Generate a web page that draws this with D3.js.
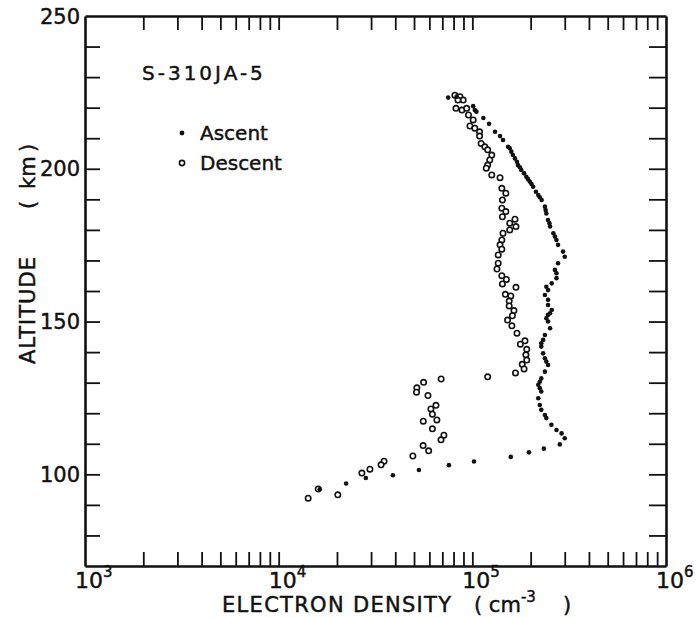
<!DOCTYPE html>
<html>
<head>
<meta charset="utf-8">
<script src="https://cdn.jsdelivr.net/npm/d3@7/dist/d3.min.js"></script>
<style>
  html, body { margin: 0; padding: 0; background: #fff; }
  svg { display: block; }
  text { font-family: "DejaVu Sans", sans-serif; fill: #111; stroke: #111; stroke-width: 0.45px; }
</style>
</head>
<body>
<svg id="chart" width="697" height="618"></svg>
<script>
// Rocket S-310JA-5 electron density profiles: [density (cm^-3), altitude (km)]
const ascent = [
  [7.5e4, 223.3], [8.3e4, 223.6], [1.01e5, 220.5], [1.03e5, 219.2], [1.05e5, 218.7],
  [1.14e5, 216.6], [1.22e5, 214.7], [1.31e5, 212.1], [1.39e5, 210.7], [1.44e5, 209.4],
  [1.53e5, 207.2], [1.56e5, 206.7], [1.59e5, 205.6], [1.62e5, 204.5], [1.66e5, 203.4],
  [1.70e5, 202.3], [1.72e5, 201.2], [1.76e5, 200.5], [1.79e5, 199.6], [1.85e5, 198.5],
  [1.90e5, 197.4], [1.94e5, 196.6], [1.98e5, 195.8], [2.02e5, 195.0], [2.06e5, 194.1],
  [2.13e5, 192.5], [2.19e5, 191.4], [2.23e5, 190.7], [2.28e5, 189.8], [2.37e5, 187.6],
  [2.39e5, 186.5], [2.41e5, 185.4], [2.46e5, 183.2], [2.50e5, 182.2], [2.52e5, 181.1],
  [2.62e5, 178.9], [2.67e5, 177.8], [2.72e5, 176.7], [2.77e5, 175.1], [2.94e5, 172.9],
  [3.0e5, 171.2], [2.77e5, 169.1], [2.67e5, 166.9], [2.72e5, 165.8], [2.72e5, 164.2],
  [2.57e5, 162.5], [2.41e5, 161.4], [2.46e5, 160.3], [2.37e5, 158.7], [2.46e5, 157.1],
  [2.46e5, 155.4], [2.57e5, 153.8], [2.52e5, 152.7], [2.46e5, 152.2], [2.41e5, 151.1],
  [2.46e5, 150.0], [2.52e5, 147.8], [2.37e5, 145.6], [2.32e5, 144.0], [2.27e5, 142.9],
  [2.27e5, 141.8], [2.32e5, 139.6], [2.37e5, 138.0], [2.41e5, 136.9], [2.46e5, 135.8],
  [2.37e5, 133.6], [2.27e5, 131.4], [2.23e5, 130.3], [2.19e5, 129.3], [2.23e5, 128.2],
  [2.27e5, 127.1], [2.19e5, 124.9], [2.23e5, 122.7], [2.27e5, 121.1], [2.37e5, 119.4],
  [2.41e5, 118.4], [2.56e5, 116.2], [2.72e5, 114.5], [2.89e5, 113.4], [3.0e5, 111.8],
  [2.83e5, 109.8], [2.34e5, 108.4], [1.96e5, 107.2], [1.58e5, 105.7], [1.02e5, 104.2],
  [7.57e4, 103.0], [5.3e4, 101.4], [3.89e4, 99.7], [2.82e4, 98.8], [2.23e4, 97.0],
  [1.63e4, 95.1]
];

const descent = [
  [8.13e4, 224.1], [8.63e4, 223.6], [8.97e4, 222.5], [8.43e4, 222.5], [8.23e4, 219.8],
  [8.84e4, 219.2], [9.35e4, 219.8], [9.55e4, 217.6], [1.01e5, 216.0], [9.72e4, 214.0],
  [1.03e5, 213.3], [1.09e5, 212.1], [1.09e5, 210.7], [1.11e5, 208.3], [1.16e5, 207.2],
  [1.20e5, 206.2], [1.26e5, 204.5], [1.23e5, 202.9], [1.20e5, 201.2], [1.18e5, 200.2],
  [1.26e5, 198.0], [1.39e5, 197.1], [1.42e5, 193.6], [1.49e5, 192.0], [1.43e5, 189.8],
  [1.42e5, 187.1], [1.49e5, 186.0], [1.43e5, 184.3], [1.66e5, 183.5], [1.56e5, 182.2],
  [1.68e5, 181.1], [1.56e5, 180.0], [1.44e5, 178.9], [1.42e5, 176.7], [1.39e5, 175.1],
  [1.42e5, 173.7], [1.36e5, 171.8], [1.36e5, 169.1], [1.34e5, 167.2], [1.42e5, 165.0],
  [1.50e5, 163.8], [1.43e5, 162.3], [1.68e5, 161.2], [1.48e5, 158.9], [1.58e5, 158.4],
  [1.55e5, 156.7], [1.55e5, 155.1], [1.64e5, 153.6], [1.61e5, 151.9], [1.52e5, 150.5],
  [1.60e5, 148.6], [1.70e5, 146.2], [1.87e5, 143.7], [1.77e5, 142.6], [1.91e5, 140.9],
  [1.89e5, 139.1], [1.91e5, 137.4], [1.81e5, 136.0], [1.85e5, 134.5], [1.67e5, 133.2],
  [1.20e5, 131.9], [6.9e4, 131.2], [5.6e4, 130.1], [5.17e4, 128.3], [5.15e4, 126.9],
  [5.9e4, 125.8], [6.49e4, 122.6], [6.11e4, 121.4], [6.22e4, 119.7], [6.56e4, 117.8],
  [5.58e4, 117.4], [6.22e4, 114.9], [7.13e4, 112.8], [6.89e4, 111.3], [5.57e4, 109.4],
  [5.95e4, 107.7], [4.93e4, 106.0], [3.5e4, 104.3], [3.38e4, 103.1], [2.96e4, 101.7],
  [2.69e4, 100.4], [1.6e4, 95.2], [2.02e4, 93.3], [1.42e4, 92.2]
];

const decadeTicks = [1e3, 1e4, 1e5, 1e6];
const decadeExponents = ["3", "4", "5", "6"];
const altitudeLabels = [100, 150, 200, 250];
const chartTitle = "S-310JA-5";
const legendLabels = ["Ascent", "Descent"];

const svg = d3.select("#chart");
const ink = "#111";

const x = d3.scaleLog().domain([1e3, 1e6]).range([85, 666]);
const y = d3.scaleLinear().domain([70, 250]).range([566, 16]);

// minor log ticks 2..9 in each decade plus interior decade marks
const logTicks = [];
for (let e = 3; e < 6; e++) {
  for (let m = 1; m < 10; m++) {
    const v = m * Math.pow(10, e);
    if (v > 1e3 && v < 1e6) logTicks.push(v);
  }
}
const altTicks = d3.range(80, 250, 10);

function styleAxis(g) {
  g.select(".domain").attr("stroke", ink).attr("stroke-width", 2.6);
  g.selectAll(".tick line").attr("stroke", ink).attr("stroke-width", 1.8);
  g.selectAll(".tick text").remove();
}

svg.append("g").attr("transform", `translate(0,${y(70)})`)
  .call(d3.axisBottom(x).tickValues(logTicks).tickSizeInner(-14).tickSizeOuter(0).tickFormat(""))
  .call(styleAxis);
svg.append("g").attr("transform", `translate(0,${y(250)})`)
  .call(d3.axisTop(x).tickValues(logTicks).tickSizeInner(-14).tickSizeOuter(0).tickFormat(""))
  .call(styleAxis);
svg.append("g").attr("transform", `translate(${x(1e3)},0)`)
  .call(d3.axisLeft(y).tickValues(altTicks).tickSizeInner(-15).tickSizeOuter(0).tickFormat(""))
  .call(styleAxis);
svg.append("g").attr("transform", `translate(${x(1e6)},0)`)
  .call(d3.axisRight(y).tickValues(altTicks).tickSizeInner(-17).tickSizeOuter(0).tickFormat(""))
  .call(styleAxis);

// altitude labels
svg.append("g").selectAll("text").data(altitudeLabels).join("text")
  .attr("x", x(1e3) - 5)
  .attr("y", d => y(d))
  .attr("dy", "0.36em")
  .attr("text-anchor", "end")
  .attr("font-size", 21)
  .text(d => d);

// decade labels with superscript exponents
const xl = svg.append("g").selectAll("text").data(decadeTicks).join("text")
  .attr("x", d => x(d) - 10)
  .attr("y", 588)
  .attr("font-size", 22);
xl.append("tspan").text("10");
xl.append("tspan").attr("dy", -11).attr("font-size", 15).text((d, i) => decadeExponents[i]);

// axis titles
const xt = svg.append("text").attr("x", 222).attr("y", 612).attr("font-size", 21);
xt.append("tspan").attr("letter-spacing", 1.3).text("ELECTRON DENSITY");
xt.append("tspan").attr("x", 474).text("( cm");
xt.append("tspan").attr("dy", -10).attr("font-size", 15).text("-3");
xt.append("tspan").attr("x", 563).attr("dy", 10).text(")");

svg.append("text")
  .attr("transform", `translate(35,310) rotate(-90)`)
  .attr("text-anchor", "middle")
  .attr("font-size", 21)
  .attr("letter-spacing", 1)
  .text("ALTITUDE");
const yu = svg.append("text")
  .attr("transform", `translate(35,177) rotate(-90)`)
  .attr("font-size", 21);
yu.append("tspan").attr("x", -32).text("(");
yu.append("tspan").attr("x", -12).text("km");
yu.append("tspan").attr("x", 25).text(")");

// title and legend
svg.append("text").attr("x", 142).attr("y", 80).attr("font-size", 20)
  .attr("letter-spacing", 3).text(chartTitle);

svg.append("circle").attr("cx", 182).attr("cy", 133).attr("r", 2.4).attr("fill", ink);
svg.append("circle").attr("cx", 182).attr("cy", 163).attr("r", 2.6)
  .attr("fill", "#fff").attr("stroke", ink).attr("stroke-width", 1.6);
svg.append("text").attr("x", 200).attr("y", 140).attr("font-size", 20).text(legendLabels[0]);
svg.append("text").attr("x", 200).attr("y", 170).attr("font-size", 20).text(legendLabels[1]);

// data points
svg.append("g").selectAll("circle").data(descent).join("circle")
  .attr("cx", d => x(d[0]))
  .attr("cy", d => y(d[1]))
  .attr("r", 2.7)
  .attr("fill", "#fff")
  .attr("stroke", ink)
  .attr("stroke-width", 1.6);

svg.append("g").selectAll("circle").data(ascent).join("circle")
  .attr("cx", d => x(d[0]))
  .attr("cy", d => y(d[1]))
  .attr("r", 2.3)
  .attr("fill", ink);
</script>
</body>
</html>
